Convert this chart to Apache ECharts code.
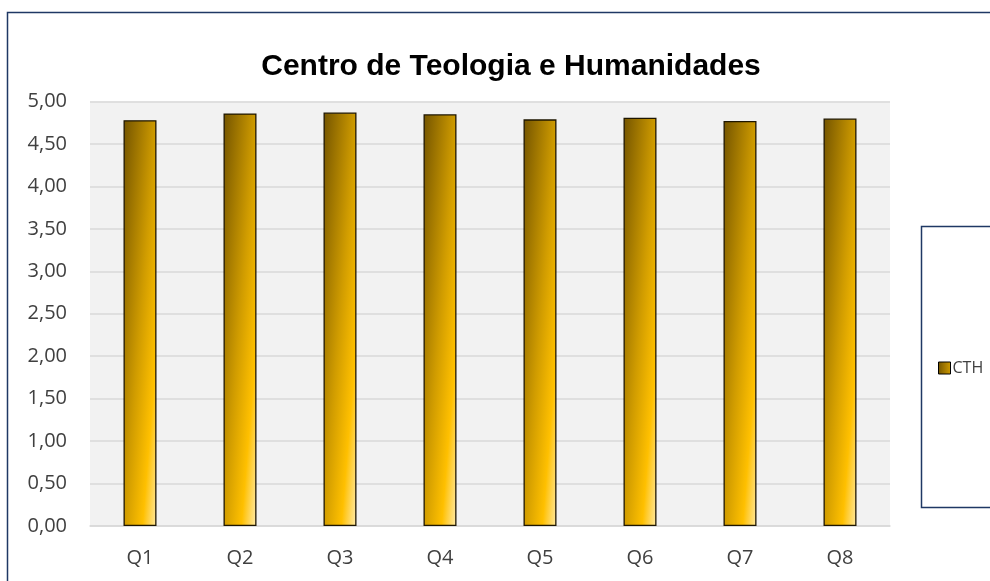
<!DOCTYPE html>
<html>
<head>
<meta charset="utf-8">
<title>Centro de Teologia e Humanidades</title>
<script src="https://cdn.jsdelivr.net/npm/echarts@6/dist/echarts.min.js"></script>
<style>
  html, body { margin: 0; padding: 0; background: #ffffff; }
  #chart { width: 990px; height: 581px; }
</style>
</head>
<body>
<div id="chart"></div>
<script>
  // dados
  let categorias = ['Q1', 'Q2', 'Q3', 'Q4', 'Q5', 'Q6', 'Q7', 'Q8']
  let valoresCTH = [4.78, 4.86, 4.87, 4.85, 4.79, 4.81, 4.77, 4.80]
  let nomeSerie = 'CTH'
  let titulo = 'Centro de Teologia e Humanidades'

  // gradiente "diagonal" do Excel: vetor quase horizontal por causa da barra alta e estreita
  let corBarra = new echarts.graphic.LinearGradient(0, 0, 1.99, 0.013, [
    { offset: 0, color: '#735400' },
    { offset: 0.5, color: '#d09c00' },
    { offset: 0.78, color: '#ffc000' },
    { offset: 1, color: '#ffeaa8' }
  ])

  let chart = echarts.init(document.getElementById('chart'))
  chart.setOption({
    animation: false,
    backgroundColor: '#ffffff',
    title: {
      text: titulo,
      left: 506,
      top: 47,
      textAlign: 'center',
      textStyle: {
        fontFamily: 'Liberation Sans',
        fontWeight: 'bold',
        fontSize: 30,
        color: '#000000'
      }
    },
    legend: {
      data: [nomeSerie],
      left: 933,
      top: 355,
      itemWidth: 12,
      itemHeight: 12,
      itemGap: 4,
      icon: 'rect',
      itemStyle: { borderColor: '#000000', borderWidth: 1 },
      textStyle: { fontFamily: 'Open Sans', fontSize: 16, color: '#404040', padding: [0, 0, 0, -3] }
    },
    grid: {
      left: 90,
      right: 100,
      top: 101.5,
      bottom: 55,
      show: true,
      backgroundColor: '#f2f2f2',
      borderWidth: 0
    },
    xAxis: {
      type: 'category',
      data: categorias,
      axisLine: { lineStyle: { color: '#d9d9d9', width: 1.5 } },
      axisTick: { show: false },
      axisLabel: { fontFamily: 'Open Sans', fontSize: 20, color: '#404040', margin: 22 }
    },
    yAxis: {
      type: 'value',
      min: 0,
      max: 5,
      interval: 0.5,
      axisLine: { show: false },
      axisTick: { show: false },
      splitLine: { lineStyle: { color: '#d9d9d9', width: 1.5 } },
      axisLabel: {
        fontFamily: 'Open Sans',
        fontSize: 20,
        color: '#404040',
        margin: 23,
        formatter: function (v) { return v.toFixed(2).replace('.', ',') }
      }
    },
    series: [{
      name: nomeSerie,
      type: 'bar',
      data: valoresCTH,
      barWidth: '33%',
      itemStyle: {
        color: corBarra,
        borderColor: '#1e1600',
        borderWidth: 1.3
      }
    }],
    graphic: [
      // borda externa da área do gráfico (cortada à direita e embaixo)
      {
        type: 'rect',
        shape: { x: 7.5, y: 12.5, width: 1000, height: 600 },
        style: { fill: 'none', stroke: '#1f3864', lineWidth: 1.5 },
        silent: true
      },
      // caixa da legenda
      {
        type: 'rect',
        shape: { x: 921.5, y: 226.5, width: 100, height: 281 },
        style: { fill: 'none', stroke: '#1f3864', lineWidth: 1.5 },
        silent: true
      }
    ]
  })
</script>
</body>
</html>
